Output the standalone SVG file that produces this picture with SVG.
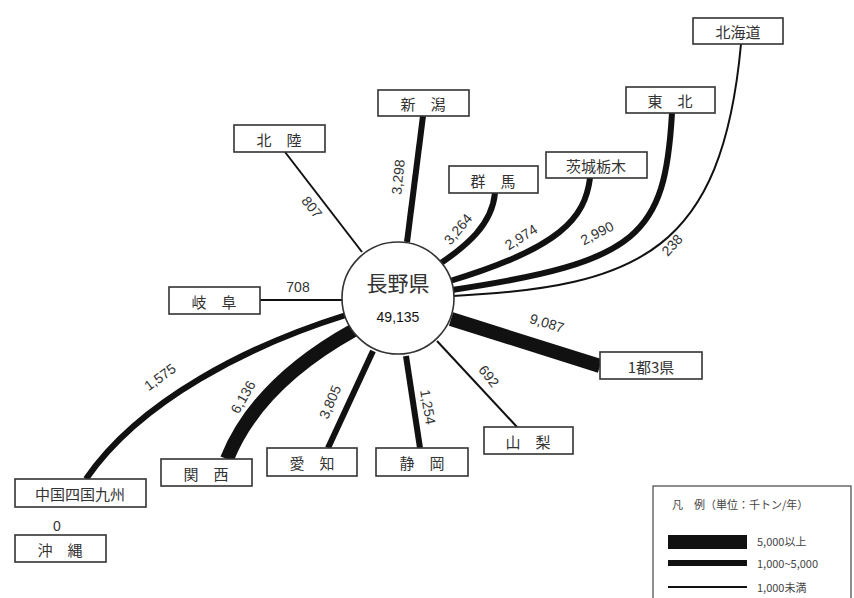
<svg xmlns="http://www.w3.org/2000/svg" width="854" height="598" viewBox="0 0 854 598">
<style>
.box{fill:#fff;stroke:#333;stroke-width:1.6}
.bt{font-family:"Noto Sans CJK JP","Noto Sans",sans-serif;font-size:15px;fill:#333;text-anchor:middle;dominant-baseline:central}
.num{font-family:"Liberation Sans Narrow","Liberation Sans",sans-serif;font-size:14px;fill:#333;text-anchor:middle;dominant-baseline:central}
.c{fill:none;stroke:#111;stroke-linecap:butt}
.w1{stroke-width:2}
.w2{stroke-width:6}
.w3{stroke-width:14}
.lg{font-family:"Noto Sans CJK JP","Noto Sans",sans-serif;font-size:11px;fill:#444;dominant-baseline:central}
</style>
<rect width="854" height="598" fill="#fff"/>
<g id="connectors">
<path class="c w1" d="M285,152 L362,252"/>
<path class="c w2" d="M423,116 L407,242"/>
<path class="c w2" d="M495,193 C492,225 466,246 441,263"/>
<path class="c w2" d="M590,178 C585,218 560,248 450,281"/>
<path class="c w2" d="M672,113 C665,235 640,262 452,290"/>
<path class="c w1" d="M741,44 C722,250 640,287 453,296"/>
<path class="c w3" d="M451,319 L600,366"/>
<path class="c w1" d="M437,341 L517,427"/>
<path class="c w2" d="M406,356 L420,448"/>
<path class="c w2" d="M373,351 L328,448"/>
<path class="c w3" d="M354,330 C300,360 250,402 227,459"/>
<path class="c w2" d="M346,315 C250,345 140,400 86,479"/>
<path class="c w1" d="M260,300 L343,300"/>
</g>
<g id="labels">
<text class="num" transform="translate(312,207) rotate(52)">807</text>
<text class="num" transform="translate(398,177) rotate(-84)">3,298</text>
<text class="num" transform="translate(458,229) rotate(-50)">3,264</text>
<text class="num" transform="translate(521,237) rotate(-32)">2,974</text>
<text class="num" transform="translate(597,233) rotate(-27)">2,990</text>
<text class="num" transform="translate(672,245) rotate(-47)">238</text>
<text class="num" transform="translate(547,323) rotate(17)">9,087</text>
<text class="num" transform="translate(489,376) rotate(52)">692</text>
<text class="num" transform="translate(428,407) rotate(80)">1,254</text>
<text class="num" transform="translate(330,402) rotate(-67)">3,805</text>
<text class="num" transform="translate(243,397) rotate(-60)">6,136</text>
<text class="num" transform="translate(160,377) rotate(-36)">1,575</text>
<text class="num" x="298" y="287">708</text>
<text class="num" x="57" y="526">0</text>
</g>
<g id="nagano">
<circle cx="398" cy="298" r="56" fill="#fff" stroke="#333" stroke-width="1.6"/>
<text class="bt" x="398" y="282" style="font-size:21px">長野県</text>
<text class="num" x="398" y="317" style="font-family:'Liberation Sans',sans-serif;font-size:14px;fill:#111">49,135</text>
</g>
<g id="hokkaido"><rect class="box" x="693" y="18" width="90" height="26"/><text class="bt" x="738" y="31">北海道</text></g>
<g id="tohoku"><rect class="box" x="626" y="87" width="89" height="26"/><text class="bt" x="670" y="100">東　北</text></g>
<g id="ibaraki"><rect class="box" x="546" y="152" width="101" height="26"/><text class="bt" x="596" y="165">茨城栃木</text></g>
<g id="gunma"><rect class="box" x="449" y="166" width="89" height="27"/><text class="bt" x="493" y="180">群　馬</text></g>
<g id="niigata"><rect class="box" x="378" y="90" width="91" height="26"/><text class="bt" x="423" y="103">新　潟</text></g>
<g id="hokuriku"><rect class="box" x="234" y="125" width="91" height="27"/><text class="bt" x="279" y="139">北　陸</text></g>
<g id="gifu"><rect class="box" x="169" y="287" width="91" height="27"/><text class="bt" x="214" y="301">岐　阜</text></g>
<g id="tokyo"><rect class="box" x="600" y="352" width="102" height="27"/><text class="bt" x="651" y="366">1都3県</text></g>
<g id="yamanashi"><rect class="box" x="484" y="427" width="89" height="27"/><text class="bt" x="528" y="441">山　梨</text></g>
<g id="shizuoka"><rect class="box" x="376" y="448" width="92" height="28"/><text class="bt" x="422" y="462">静　岡</text></g>
<g id="aichi"><rect class="box" x="267" y="448" width="90" height="28"/><text class="bt" x="312" y="462">愛　知</text></g>
<g id="kansai"><rect class="box" x="161" y="459" width="91" height="27"/><text class="bt" x="206" y="473">関　西</text></g>
<g id="chugoku"><rect class="box" x="15" y="479" width="131" height="28"/><text class="bt" x="80" y="493">中国四国九州</text></g>
<g id="okinawa"><rect class="box" x="15" y="535" width="91" height="27"/><text class="bt" x="60" y="549">沖　縄</text></g>
<g id="legend">
<rect x="653" y="486" width="198" height="120" fill="#fff" stroke="#444" stroke-width="1.2"/>
<text class="lg" x="672" y="504">凡　例（単位：千トン/年）</text>
<rect x="668" y="535" width="79" height="14" fill="#111"/>
<text class="lg" x="757" y="541">5,000以上</text>
<rect x="668" y="560" width="79" height="6" fill="#111"/>
<text class="lg" x="757" y="563">1,000~5,000</text>
<rect x="668" y="586" width="79" height="2" fill="#111"/>
<text class="lg" x="757" y="587">1,000未満</text>
</g>
</svg>
